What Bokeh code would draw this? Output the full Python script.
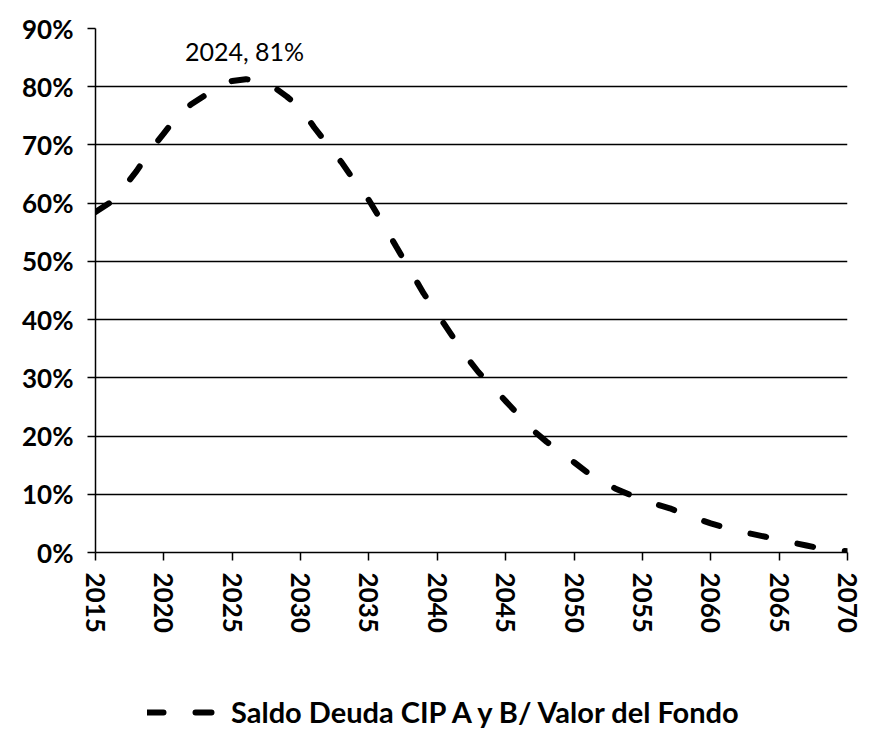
from bokeh.plotting import figure
from bokeh.layouts import column
from bokeh.models import Legend, LegendItem, PrintfTickFormatter, FixedTicker, Range1d, Label
from bokeh.embed import file_html
from bokeh.resources import INLINE

years = list(range(2015, 2071))
ratio_pct = [58.5, 60.0, 62.5, 65.5, 69.0, 72.0, 75.0, 77.0, 78.5, 80.0,
             81.0, 81.3, 81.0, 80.0, 78.3, 76.3, 73.0, 70.0, 67.0, 63.6,
             60.5, 56.6, 52.5, 48.5, 44.5, 41.0, 37.5, 34.0, 31.0, 28.5,
             26.0, 23.5, 21.0, 19.0, 17.3, 15.5, 13.7, 12.3, 11.0, 10.0,
             9.0, 8.3, 7.6, 6.6, 5.8, 5.0, 4.3, 3.7, 3.2, 2.7,
             2.2, 1.7, 1.2, 0.7, 0.4, 0.2]
x_ticks = list(range(2015, 2071, 5))
y_ticks = list(range(0, 91, 10))
series_name = "Saldo Deuda CIP A y B/ Valor del Fondo"
peak_label = "2024, 81%"
peak_label_pos = (2025.9, 86.2)

line_style = dict(line_color="black", line_width=6, line_dash="16 32", line_cap="round")

p = figure(width=861, height=664, output_backend="svg", toolbar_location=None,
           x_range=Range1d(2015, 2070), y_range=Range1d(0, 90),
           min_border_left=95, min_border_right=14, min_border_top=28,
           min_border_bottom=112)
p.outline_line_color = None
p.background_fill_color = "white"
p.border_fill_color = "white"

p.line(years, ratio_pct, **line_style)

# axes
p.xaxis.ticker = FixedTicker(ticks=x_ticks)
p.yaxis.ticker = FixedTicker(ticks=y_ticks)
p.yaxis.formatter = PrintfTickFormatter(format="%d%%")
for ax in (p.xaxis[0], p.yaxis[0]):
    ax.axis_line_color = "black"
    ax.axis_line_width = 1.5
    ax.major_tick_line_color = "black"
    ax.major_tick_line_width = 1.5
    ax.major_tick_in = 0
    ax.major_tick_out = 8
    ax.minor_tick_line_color = None
    ax.major_label_text_font = "Lato"
    ax.major_label_text_font_style = "bold"
    ax.major_label_text_font_size = "26px"
    ax.major_label_text_color = "black"
p.xaxis.major_label_orientation = "vertical"
p.xaxis.major_label_standoff = 12
p.yaxis.major_label_standoff = 14

p.xgrid.grid_line_color = None
p.ygrid.grid_line_color = "black"
p.ygrid.grid_line_width = 1.5
p.ygrid.grid_line_alpha = 1.0

p.add_layout(Label(x=peak_label_pos[0], y=peak_label_pos[1], text=peak_label,
                   text_font="Lato", text_font_size="25px", text_color="black",
                   text_align="center", text_baseline="middle"))

# legend strip below the chart (same series, drawn outside this strip's ranges)
lg = figure(width=861, height=68, output_backend="svg", toolbar_location=None,
            x_range=Range1d(0, 1), y_range=Range1d(0, 1),
            min_border_left=95, min_border_right=14, min_border_top=0, min_border_bottom=0)
lg.axis.visible = False
lg.grid.grid_line_color = None
lg.outline_line_color = None
lg_line = lg.line(years, ratio_pct, **line_style)

legend = Legend(items=[LegendItem(label=series_name, renderers=[lg_line])],
                location=(52, 3), orientation="horizontal", padding=0, margin=0,
                glyph_width=81, glyph_height=20, label_standoff=3,
                label_text_font="Lato", label_text_font_style="bold",
                label_text_font_size="29px", label_text_color="black",
                border_line_color=None, background_fill_alpha=0)
lg.add_layout(legend, "center")

layout = column(p, lg, spacing=0)
open("out.html", "w").write(file_html(layout, INLINE))
